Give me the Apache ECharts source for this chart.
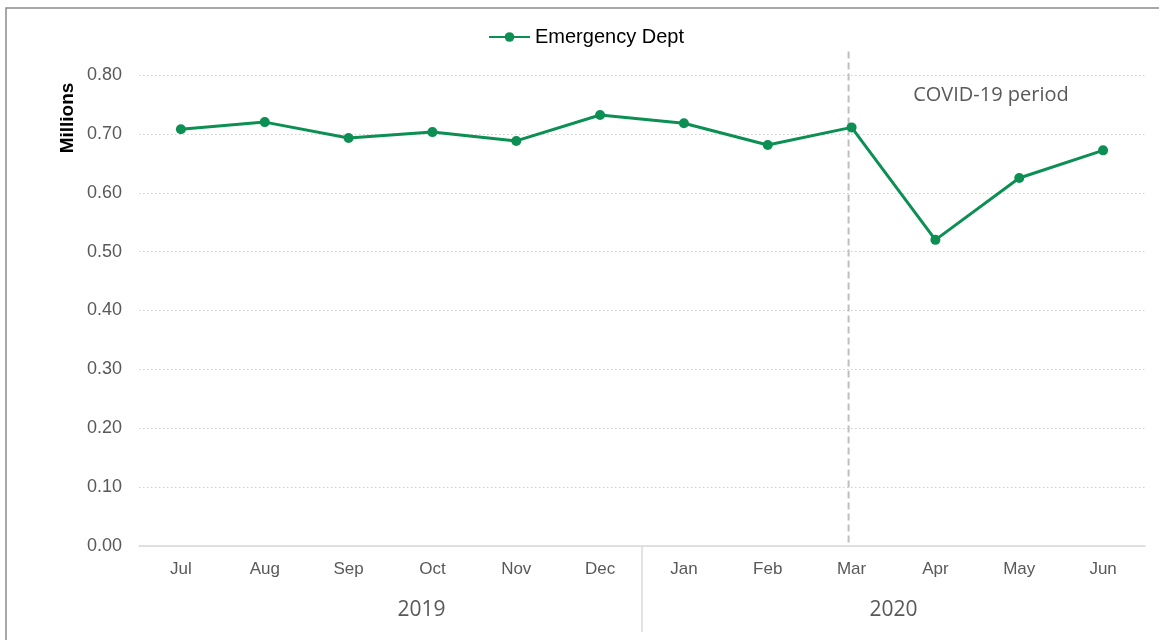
<!DOCTYPE html>
<html>
<head>
<meta charset="utf-8">
<script src="https://cdn.jsdelivr.net/npm/echarts@6/dist/echarts.min.js"></script>
<style>
html,body{margin:0;padding:0;background:#fff;}
#chart{width:1159px;height:640px;}
</style>
</head>
<body>
<div id="chart"></div>
<script>
var months = ['Jul','Aug','Sep','Oct','Nov','Dec','Jan','Feb','Mar','Apr','May','Jun'];
var years = ['2019','2020'];
var edValues = [0.708, 0.720, 0.693, 0.703, 0.688, 0.732, 0.718, 0.681, 0.711, 0.520, 0.625, 0.672];
var seriesName = 'Emergency Dept';
var covidStart = 'Mar';
var yearBreakBefore = 'Jan';
var covidLabel = 'COVID-19 period';
var yAxisTitle = 'Millions';

var chart = echarts.init(document.getElementById('chart'));
var green = '#0b8f52';
var armFont = 'Liberation Sans, Arial, sans-serif';
var calFont = 'Open Sans, Noto Sans, sans-serif';
var option = {
  animation: false,
  backgroundColor: '#ffffff',
  grid: {left: 139, right: 14, top: 75, bottom: 94},
  legend: {
    data: [seriesName],
    top: 22,
    left: 483,
    itemWidth: 41,
    itemHeight: 12,
    textStyle: {color: '#000000', fontSize: 20, fontFamily: armFont}
  },
  xAxis: [{
    type: 'category',
    data: months,
    boundaryGap: true,
    axisLine: {show: true, lineStyle: {color: '#d9d9d9', width: 1.5}},
    axisTick: {show: false},
    axisLabel: {color: '#595959', fontSize: 17, margin: 15, fontFamily: armFont},
    splitLine: {show: false}
  }, {
    type: 'category',
    data: years,
    position: 'bottom',
    boundaryGap: true,
    axisLine: {show: false},
    axisTick: {show: false},
    axisLabel: {
      margin: 54,
      formatter: function (v, i) { return (i === 0 ? '{a|' : '{b|') + v + '}'; },
      rich: {
        a: {color: '#595959', fontSize: 21, fontFamily: calFont, padding: [0, 0, 0, 62]},
        b: {color: '#595959', fontSize: 21, fontFamily: calFont}
      }
    },
    splitLine: {show: false}
  }],
  yAxis: {
    type: 'value',
    min: 0,
    max: 0.8,
    interval: 0.1,
    axisLine: {show: false},
    axisTick: {show: false},
    axisLabel: {color: '#595959', fontSize: 18, margin: 17, fontFamily: armFont,
      formatter: function (v) { return v.toFixed(2); }},
    splitLine: {show: true, lineStyle: {color: '#cfcfcf', type: [1.5, 2.5], width: 1.2}}
  },
  series: [{
    name: seriesName,
    type: 'line',
    xAxisIndex: 0,
    data: edValues,
    symbol: 'circle',
    symbolSize: 10,
    itemStyle: {color: green},
    lineStyle: {color: green, width: 3},
    z: 5
  }]
};
chart.setOption(option);

// Derived positions from the library's own scales
var xMar = chart.convertToPixel({xAxisIndex: 0}, covidStart) - 3;
var y0 = chart.convertToPixel({yAxisIndex: 0}, 0);
var yTop = chart.convertToPixel({yAxisIndex: 0}, 0.84);
var xJan = chart.convertToPixel({xAxisIndex: 0}, yearBreakBefore);
var xDec = chart.convertToPixel({xAxisIndex: 0}, months[months.indexOf(yearBreakBefore) - 1]);
var xBreak = (xJan + xDec) / 2;

chart.setOption({
  graphic: [
    {type: 'rect', shape: {x: 6, y: 8, width: 1170, height: 650}, style: {fill: 'none', stroke: '#8c8c8c', lineWidth: 1.5}, silent: true, z: -1},
    {type: 'line', shape: {x1: xMar, y1: yTop, x2: xMar, y2: y0}, style: {stroke: '#bfbfbf', lineWidth: 2, lineDash: [7, 4]}, z: 1, silent: true},
    {type: 'line', shape: {x1: xBreak, y1: y0, x2: xBreak, y2: y0 + 86}, style: {stroke: '#d9d9d9', lineWidth: 1.5}, silent: true},
    {type: 'text', x: 68, y: 118, rotation: Math.PI / 2, style: {text: yAxisTitle, font: 'bold 19px Liberation Sans, Arial, sans-serif', fill: '#000000', align: 'center', verticalAlign: 'middle'}},
    {type: 'text', x: 991, y: 95, style: {text: covidLabel, font: '20px Open Sans, Noto Sans, sans-serif', fill: '#595959', align: 'center', verticalAlign: 'middle'}}
  ]
});
</script>
</body>
</html>
